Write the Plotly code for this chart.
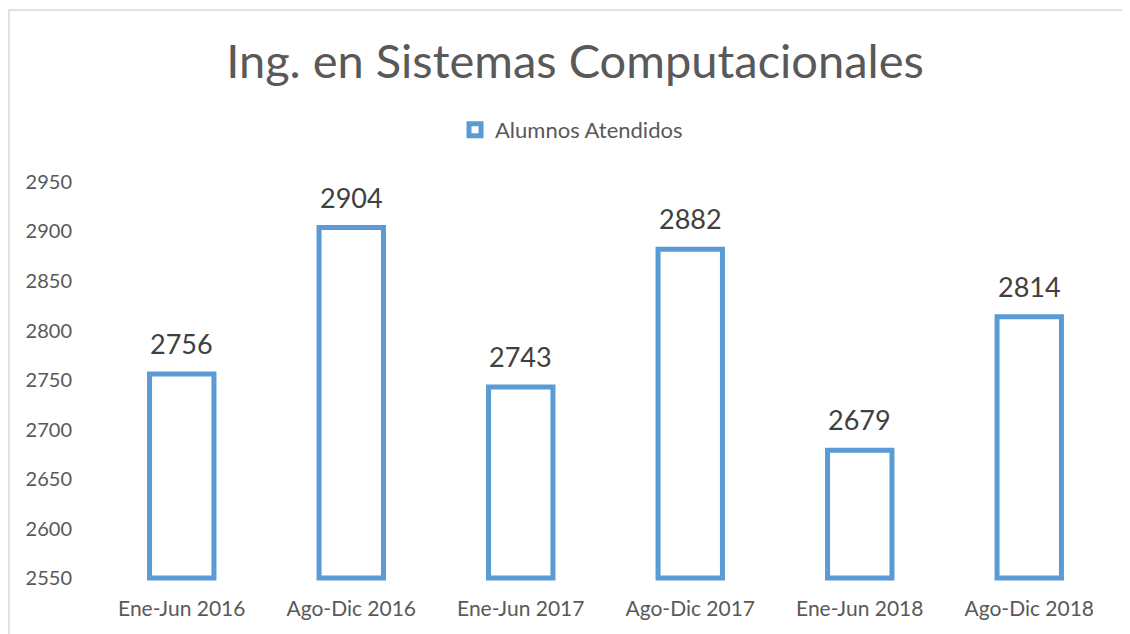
import plotly.graph_objects as go

categories = ["Ene-Jun 2016", "Ago-Dic 2016", "Ene-Jun 2017", "Ago-Dic 2017", "Ene-Jun 2018", "Ago-Dic 2018"]
alumnos = [2756, 2904, 2743, 2882, 2679, 2814]
series_name = "Alumnos Atendidos"
title_text = "Ing. en Sistemas Computacionales"
axis_base = 2550

FONT = "Lato, 'Open Sans', sans-serif"
BLUE = "#5B9BD5"

fig = go.Figure()
fig.add_trace(go.Bar(
    x=categories,
    y=[v - axis_base for v in alumnos],
    base=axis_base,
    name=series_name,
    marker=dict(color="white", line=dict(color=BLUE, width=5)),
    width=0.38,
    showlegend=True,
    hoverinfo="skip",
))

for c, v in zip(categories, alumnos):
    fig.add_annotation(x=c, y=v, text=str(v), showarrow=False, yanchor="bottom",
                       yshift=12, font=dict(family=FONT, size=27, color="#404040"))

OFF = 8  # page body margin
W, H = 1122, 626
L, T = 97 - OFF, 180 - OFF
R = W - (1114 - OFF)
B = H - (582 - OFF)
pw = W - L - R
ph = H - T - B

def px(x):
    return (x - OFF - L) / pw

def py(y):
    return (H - B - (y - OFF)) / ph

fig.add_shape(type="rect", xref="paper", yref="paper",
              x0=px(9), x1=px(1145), y0=py(650), y1=py(10),
              line=dict(color="#D9D9D9", width=1.5), fillcolor="rgba(0,0,0,0)", layer="below")

fig.update_layout(
    width=W, height=H,
    margin=dict(l=L, r=R, t=T, b=B, autoexpand=False),
    paper_bgcolor="white", plot_bgcolor="white",
    title=dict(text=title_text, xref="container", yref="container",
               x=(575 - OFF) / W, xanchor="center", y=1 - (62 - OFF) / H, yanchor="middle",
               font=dict(family=FONT, size=47, color="#595959")),
    legend=dict(orientation="h", x=px(455), xanchor="left", y=py(130), yanchor="middle",
                font=dict(family=FONT, size=22, color="#595959"), itemwidth=30, bgcolor="rgba(0,0,0,0)"),
    bargap=0.62,
    xaxis=dict(showgrid=False, showline=False, zeroline=False, ticks="",
               tickfont=dict(family=FONT, size=21, color="#595959"), ticklabelstandoff=12),
    yaxis=dict(range=[2546, 2952], dtick=50, tick0=2550, showgrid=False, showline=False, zeroline=False,
               ticks="", tickfont=dict(family=FONT, size=20, color="#595959"), ticklabelstandoff=24),
)

fig.write_html("out.html")
